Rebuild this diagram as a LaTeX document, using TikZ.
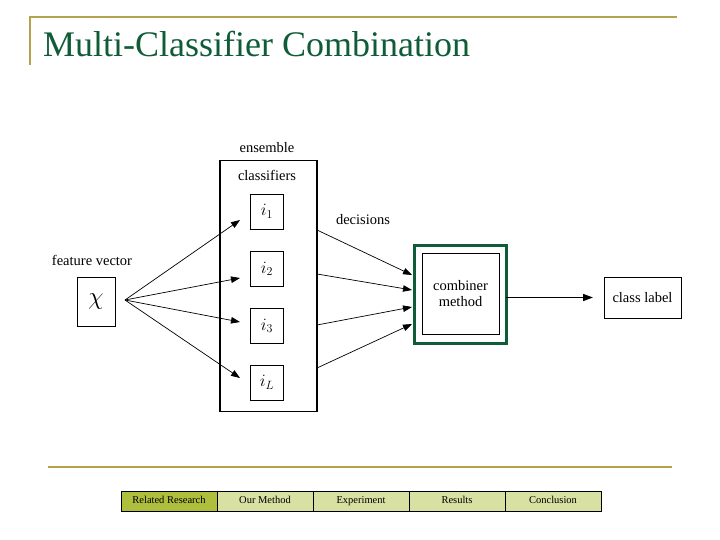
\documentclass[tikz,border=0pt]{standalone}
\usepackage{fontspec}
\setmainfont{Liberation Serif}
\usetikzlibrary{arrows.meta}
\usetikzlibrary{positioning}

\begin{document}
\begin{tikzpicture}[x=1pt, y=-1pt, every node/.style={inner sep=0,outer sep=0},
    txt/.style={font=\fontsize{14.5}{16}\selectfont},
    clbox/.style={draw, line width=0.6pt, minimum width=33pt, minimum height=35pt, font=\fontsize{18}{20}\selectfont},
    fan/.style={-{Triangle[length=9pt,width=6.5pt]}, line width=0.7pt},
    navbox/.style={draw, line width=0.8pt, minimum width=96pt, minimum height=20pt, text height=7pt, text depth=2pt, font=\fontsize{10.5}{12}\selectfont}]
        % Colors
        \definecolor{titlegreen}{RGB}{16,92,56}
        \definecolor{olive}{RGB}{180,162,78}
        \definecolor{navdark}{RGB}{176,190,62}
        \definecolor{navlight}{RGB}{216,224,162}

        \useasboundingbox (0,0) rectangle (720,540);

        % Title and rules
        \draw[olive, line width=2pt] (30,65) -- (30,17) -- (677,17);
        \node[anchor=base west, text=titlegreen, font=\fontsize{36}{40}\selectfont] (title) at (43,57) {Multi-Classifier Combination};
        \draw[olive, line width=2pt] (48,467) -- (672,467);

        % Ensemble of classifiers
        \node[draw, line width=1.2pt, minimum width=97pt, minimum height=251pt] (ens) at (268.5,286) {};
        \node[txt] (ens_lbl) at (267,148) {ensemble};
        \node[txt] (cls_lbl) at (267,175) {classifiers};
        \node[clbox] (c1) at (267,211.5) {$i_1$};
        \node[clbox] (c2) at (267,269) {$i_2$};
        \node[clbox] (c3) at (267,326) {$i_3$};
        \node[clbox] (cL) at (267,382.5) {$i_L$};

        % Feature vector
        \node[draw, line width=0.8pt, minimum width=38pt, minimum height=49pt, font=\fontsize{30}{32}\selectfont] (fv) at (96,301.5) {$\chi$};
        \node[txt] (fv_lbl) at (92,260) {feature vector};
        \coordinate (src) at (125,300);
        \coordinate (t1) at (240,220);
        \coordinate (t2) at (240,278);
        \coordinate (t3) at (240,322);
        \coordinate (tL) at (240,378);
        \foreach \t in {t1,t2,t3,tL}
            \draw[fan] (src) -- (\t);

        % Combiner
        \node[draw, titlegreen, line width=3pt, minimum width=92pt, minimum height=98pt] (comb) at (460,294) {};
        \node[draw, line width=0.8pt, minimum width=77pt, minimum height=81pt, align=center, txt] (comb_in) at (460.5,293.5) {combiner\\method};
        \node[txt] (dec_lbl) at (363,220) {decisions};
        \coordinate (s1) at (317,230);
        \coordinate (s2) at (317,274);
        \coordinate (s3) at (317,325);
        \coordinate (sL) at (317,368);
        \coordinate (d1) at (412,275);
        \coordinate (d2) at (412,290);
        \coordinate (d3) at (412,307);
        \coordinate (dL) at (412,324);
        \foreach \s/\d in {s1/d1,s2/d2,s3/d3,sL/dL}
            \draw[fan] (\s) -- (\d);

        % Class label
        \node[draw, line width=0.8pt, minimum width=77pt, minimum height=41pt, txt] (out) at (642.5,297.5) {class label};
        \draw[-{Triangle[length=10pt,width=7pt]}, line width=1.6pt, shorten >=11pt] (comb.east |- out.west) -- (out.west);

        % Navigation bar
        \foreach \name/\shade [count=\k] in {Related Research/navdark, Our Method/navlight, Experiment/navlight, Results/navlight, Conclusion/navlight}
            \node[navbox, fill=\shade] (nav\k) at ({169+96*(\k-1)},501) {\name};
      \end{tikzpicture}
\end{document}
